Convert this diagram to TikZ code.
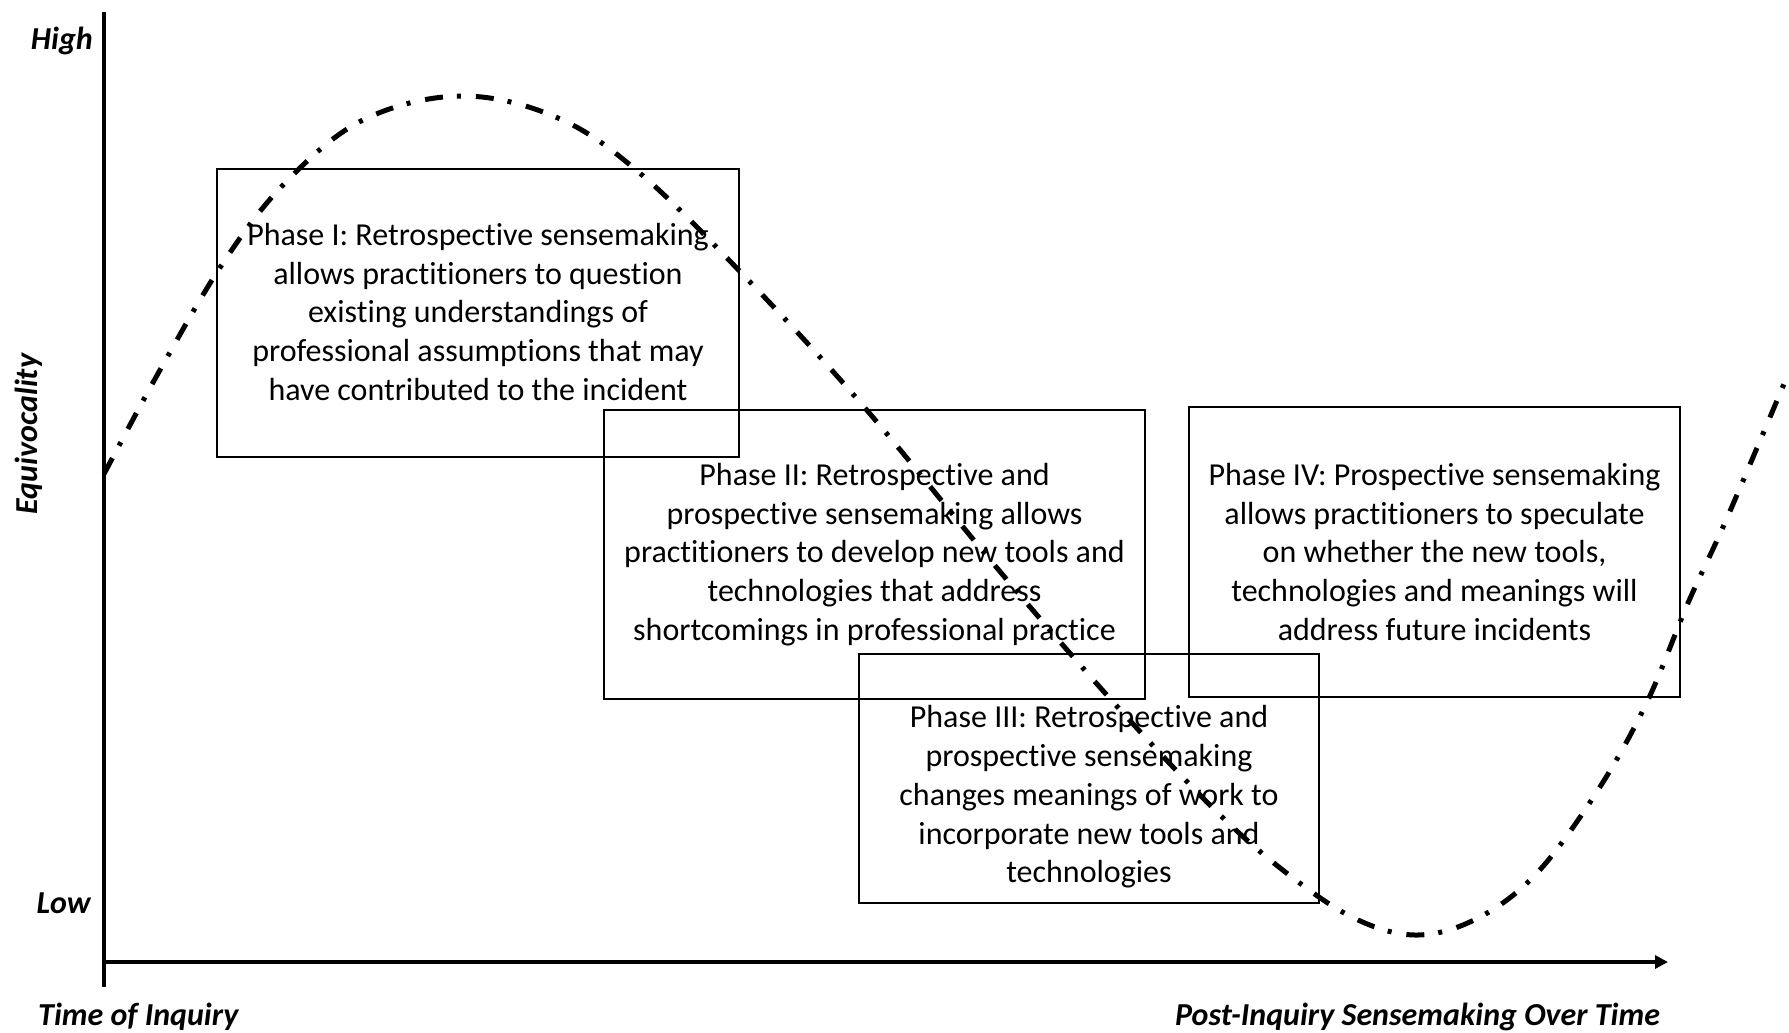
\documentclass[tikz,border=0pt]{standalone}
\usepackage{fontspec}
\setmainfont{Carlito}[Ligatures=NoCommon]
\usetikzlibrary{arrows.meta}
\begin{document}
\begin{tikzpicture}[x=1pt,y=-1pt,
  phasebox/.style={draw, line width=2.5pt, inner sep=0pt},
  phasetext/.style={align=center, inner sep=0pt, font=\fontsize{32}{38.75}\selectfont},
  axislabel/.style={font=\fontsize{32}{37}\selectfont\bfseries\itshape, inner sep=0pt},
  axisline/.style={line width=4pt},
  wave/.style={line width=5pt, dash pattern=on 18pt off 14pt on 4pt off 15pt}]
\useasboundingbox (0,0) rectangle (1789,1033);

% wave
\draw[wave] plot[smooth, tension=0.6] coordinates {
 (104,474) (160,370) (223,263) (285,183) (363,120) (461,96) (558,118)
 (642,175) (750,282) (865,408) (997,568) (1114,703) (1218,813) (1293,878)
 (1358,920) (1418,935) (1478,918) (1537,873) (1598,790) (1647,702)
 (1688,603) (1727,518) (1789,372)};

% axes
\coordinate (ytop) at (104,12);
\coordinate (ybot) at (104,987);
\coordinate (orig) at (104,962);
\coordinate (xend) at (1668,962);
\draw[axisline] (ybot) -- (ytop);
\draw[axisline, -{Triangle[length=13pt,width=13pt]}] (orig) -- (xend);

% boxes
\node[phasebox, minimum width=522pt, minimum height=288pt] (b1) at (478,313) {};
\node[phasebox, minimum width=541pt, minimum height=289pt] (b2) at (874.5,554.5) {};
\node[phasebox, minimum width=460pt, minimum height=249pt] (b3) at (1089,778.5) {};
\node[phasebox, minimum width=491pt, minimum height=290pt] (b4) at (1434.5,552) {};

% texts
\node[phasetext] (t1) at (478,312) {Phase I: Retrospective sensemaking\\allows practitioners to question\\existing understandings of\\professional assumptions that may\\have contributed to the incident};
\node[phasetext] (t2) at (874.5,554.5) {Phase II: Retrospective and\\prospective sensemaking allows\\practitioners to develop new tools and\\technologies that address\\shortcomings in professional practice};
\node[phasetext] (t3) at (1089,797) {Phase III: Retrospective and\\prospective sensemaking\\changes meanings of work to\\incorporate new tools and\\technologies};
\node[phasetext] (t4) at (1434.5,552) {Phase IV: Prospective sensemaking\\allows practitioners to speculate\\on whether the new tools,\\technologies and meanings will\\address future incidents};

% axis labels
\node[axislabel, anchor=base east] (high) at (93,50) {High};
\node[axislabel, anchor=base east] (low) at (91,913) {Low};
\node[axislabel, rotate=90, anchor=base] (equiv) at (37,434) {Equivocality};
\node[axislabel, anchor=base west] (tinq) at (38,1025) {Time of Inquiry};
\node[axislabel, anchor=base west] (post) at (1175,1025) {Post-Inquiry Sensemaking Over Time};
\end{tikzpicture}
\end{document}
